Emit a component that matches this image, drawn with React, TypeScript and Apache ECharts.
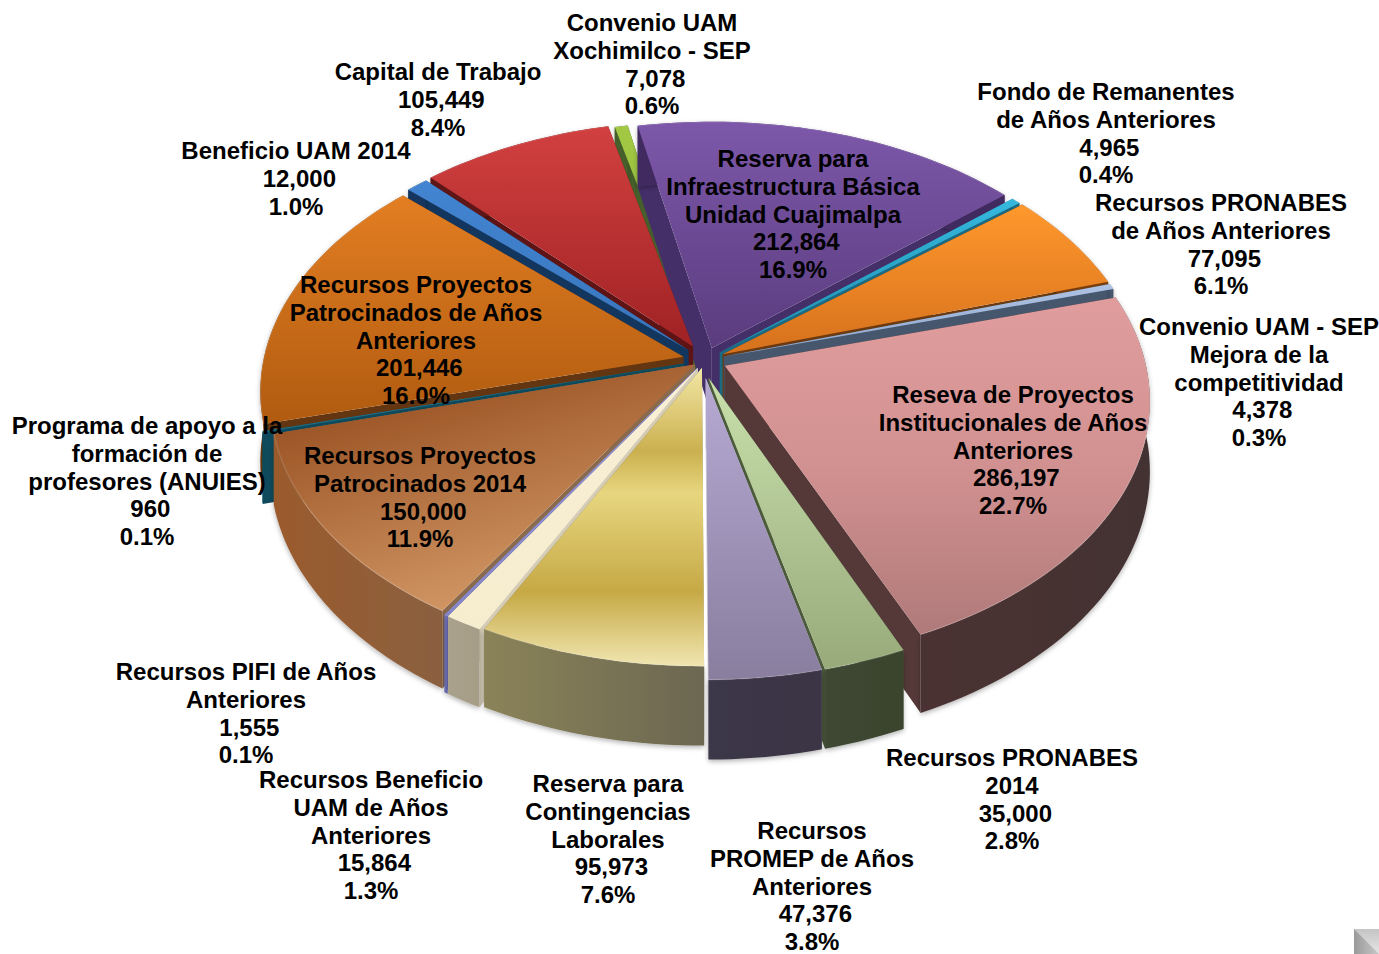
import React, { useEffect, useRef } from "react";
import * as echarts from "echarts";

const categories = [
  "Reserva para\nInfraestructura Básica\nUnidad Cuajimalpa",
  "Fondo de Remanentes\nde Años Anteriores",
  "Recursos PRONABES\nde Años Anteriores",
  "Convenio UAM - SEP\nMejora de la\ncompetitividad",
  "Reseva de Proyectos\nInstitucionales de Años\nAnteriores",
  "Recursos PRONABES\n2014",
  "Recursos\nPROMEP de Años\nAnteriores",
  "Reserva para\nContingencias\nLaborales",
  "Recursos Beneficio\nUAM de Años\nAnteriores",
  "Recursos PIFI de Años\nAnteriores",
  "Recursos Proyectos\nPatrocinados 2014",
  "Programa de apoyo a la\nformación de\nprofesores (ANUIES)",
  "Recursos Proyectos\nPatrocinados de Años\nAnteriores",
  "Beneficio UAM 2014",
  "Capital de Trabajo",
  "Convenio UAM\nXochimilco - SEP",
];
const values = [212864, 4965, 77095, 4378, 286197, 35000, 47376, 95973, 15864, 1555, 150000, 960, 201446, 12000, 105449, 7078];

// how far each slice is pulled from the centre, as a share of the radius
const explode = [0.05, 0.046, 0.048, 0.047, 0.052, 0.072, 0.07, 0.031, 0.035, 0.035, 0.03, 0.052, 0.053, 0.056, 0.06, 0.05];
// sideways correction of a slice, as a share of the radius
const nudgeX = [0, 0, 0, 0, 0, -0.015, -0.007, 0, 0, 0, 0, 0, 0, 0, 0, 0];

// label anchor: centre x, middle of first line y
const labelX = [793, 1106, 1221, 1259, 1013, 1012, 812, 608, 371, 246, 420, 147, 416, 296, 438, 652];
const labelY = [159, 92, 203, 327, 395, 758, 831, 784, 780, 672, 456, 426, 285, 151, 72, 23];

// top-surface gradient stops, wall colours, cut-face colours
type Stop = [number, string];
const topStops: Stop[][] = [
  [[0, "#7d58aa"], [1, "#5a3c7e"]],
  [[0, "#35b8de"], [1, "#1f8fb0"]],
  [[0, "#ff982c"], [1, "#d6711d"]],
  [[0, "#aec3e4"], [1, "#8fa5c8"]],
  [[0, "#e19d9d"], [0.5, "#d29191"], [1, "#b07a7a"]],
  [[0, "#c8e0ac"], [1, "#98aa7a"]],
  [[0, "#b6aad4"], [1, "#897e9e"]],
  [[0, "#f2e7a6"], [0.28, "#cbb04f"], [0.42, "#e7d67f"], [0.75, "#c6a945"], [1, "#f0e6b0"]],
  [[0, "#f8efd6"], [1, "#f6ecce"]],
  [[0, "#9a9cdc"], [1, "#8486c8"]],
  [[0, "#9c5526"], [1, "#d09563"]],
  [[0, "#2d8499"], [1, "#1f6a80"]],
  [[0, "#e37e22"], [1, "#b05b10"]],
  [[0, "#4385d2"], [1, "#3874bb"]],
  [[0, "#d24040"], [1, "#a02224"]],
  [[0, "#a2c843"], [1, "#8cb23a"]],
];
const topAngle: [number, number, number, number][] = values.map((_, i) => (i === 10 ? [0, 0.273, 0.36, 1.02] : [0, 0, 0, 1]));
const wallFrom = ["#3f2c60", "#1b6a82", "#7a3c0a", "#45566d", "#4c3333", "#3d4832", "#3c3748", "#8a8359", "#aaa18c", "#6c6db5", "#9b5a2c", "#0f4a5c", "#633510", "#12365e", "#5e1414", "#45602a"];
const wallTo = ["#3f2c60", "#1b6a82", "#7a3c0a", "#45566d", "#433030", "#3a442e", "#3a3544", "#6c6751", "#a69d87", "#6c6db5", "#8a6040", "#0f4a5c", "#633510", "#12365e", "#5e1414", "#45602a"];
const cutColor = ["#452f69", "#1b6a82", "#6b3a10", "#45566d", "#553939", "#4c5a3c", "#c9c6cf", "#8a8359", "#d4ccb6", "#6c6db5", "#8a6a4c", "#0f4a5c", "#633510", "#12365e", "#5e1414", "#45602a"];

const START_DEG = -11.4;
const CX = 705, CY = 360, A = 420, B = 258, K = 0.128, DEPTH = 69;
const TOTAL = values.reduce((a, b) => a + b, 0);
const RAD = Math.PI / 180;

const angleOf = (i: number) => {
  let sum = 0;
  for (let k = 0; k < i; k++) sum += values[k];
  return START_DEG + (sum / TOTAL) * 360;
};
const midPy = (i: number) => Math.cos(RAD * (angleOf(i) + (values[i] / TOTAL) * 180));
const depthRank = values.map((_, i) => i).sort((a, b) => midPy(b) - midPy(a));

function project(thDeg: number, r: number, z: number, ox: number, oy: number): [number, number] {
  const X = ox + r * Math.sin(thDeg * RAD);
  const Y = oy + r * Math.cos(thDeg * RAD);
  const s = 1 / (1 + K * Y);
  return [CX + A * X * s, CY - B * Y * s + DEPTH * z * s];
}

function renderSlice(params: any) {
  const i: number = params.dataIndex;
  const a0 = angleOf(i);
  const a1 = a0 + (values[i] / TOTAL) * 360;
  const mid = (a0 + a1) / 2;
  const ox = explode[i] * Math.sin(mid * RAD) + nudgeX[i];
  const oy = explode[i] * Math.cos(mid * RAD);
  const n = Math.max(2, Math.ceil((a1 - a0) / 1.5));
  const rimTop: [number, number][] = [];
  const rimBot: [number, number][] = [];
  for (let k = 0; k <= n; k++) {
    const t = a0 + ((a1 - a0) * k) / n;
    rimTop.push(project(t, 1, 0, ox, oy));
    rimBot.push(project(t, 1, 1, ox, oy));
  }
  const apexTop = project(0, 0, 0, ox, oy);
  const apexBot = project(0, 0, 1, ox, oy);
  const rank = depthRank.indexOf(i);
  const z = rank * 10;
  const g = topAngle[i];
  const children: any[] = [
    { type: "polygon", z2: z, shape: { points: [apexTop, rimTop[0], rimBot[0], apexBot] }, style: { fill: cutColor[i] } },
    { type: "polygon", z2: z + 1, shape: { points: [apexTop, rimTop[n], rimBot[n], apexBot] }, style: { fill: cutColor[i] } },
    {
      type: "polygon",
      z2: z + 2,
      shape: { points: [...rimTop, ...rimBot.slice().reverse()] },
      style: {
        fill: new echarts.graphic.LinearGradient(0, 0, 1, 0, [
          { offset: 0, color: wallFrom[i] },
          { offset: 1, color: wallTo[i] },
        ]),
        shadowBlur: 5,
        shadowColor: "rgba(0,0,0,0.3)",
        shadowOffsetY: 2,
      },
    },
    {
      type: "polygon",
      z2: z + 3,
      shape: { points: [apexTop, ...rimTop] },
      style: {
        fill: new echarts.graphic.LinearGradient(g[0], g[1], g[2], g[3], topStops[i].map(([offset, color]) => ({ offset, color }))),
      },
    },
    {
      type: "polyline",
      z2: z + 4,
      shape: { points: rimTop },
      style: { fill: "none", stroke: "rgba(255,255,255,0.12)", lineWidth: 1.5 },
    },
  ];
  return { type: "group", children };
}

export default function App() {
  const ref = useRef<HTMLDivElement>(null);
  useEffect(() => {
    const chart = echarts.init(ref.current!, undefined, { renderer: "svg" });
    chart.setOption({
      animation: false,
      backgroundColor: "#ffffff",
      series: [
        {
          type: "custom",
          coordinateSystem: "none",
          silent: true,
          renderItem: renderSlice,
          data: values.map((v) => [v]),
        },
      ],
      graphic: [
        ...categories.map((name, i) => ({
          type: "text",
          z: 50,
          x: labelX[i],
          y: labelY[i] - 14,
          silent: true,
          style: {
            text: `${name}\n ${values[i].toLocaleString("en-US")}\n${((values[i] / TOTAL) * 100).toFixed(1)}%`,
            font: 'bold 24px "Liberation Sans", Arial, sans-serif',
            fill: "#000000",
            align: "center",
            verticalAlign: "top",
            lineHeight: 27.7,
          },
        })),
        { type: "rect", z: 40, shape: { x: 1354, y: 929, width: 25, height: 25 }, style: { fill: new echarts.graphic.LinearGradient(0, 0, 0, 1, [{ offset: 0, color: "#c4c4c4" }, { offset: 1, color: "#e6e6e6" }]) } },
        { type: "polygon", z: 41, shape: { points: [[1354, 929], [1379, 954], [1354, 954]] }, style: { fill: new echarts.graphic.LinearGradient(0, 0, 1, 0, [{ offset: 0, color: "#9a9a9a" }, { offset: 1, color: "#c8c8c8" }]) } },
      ],
    });
    return () => chart.dispose();
  }, []);
  return <div ref={ref} style={{ position: "absolute", left: 0, top: 0, width: 1379, height: 954 }} />;
}
